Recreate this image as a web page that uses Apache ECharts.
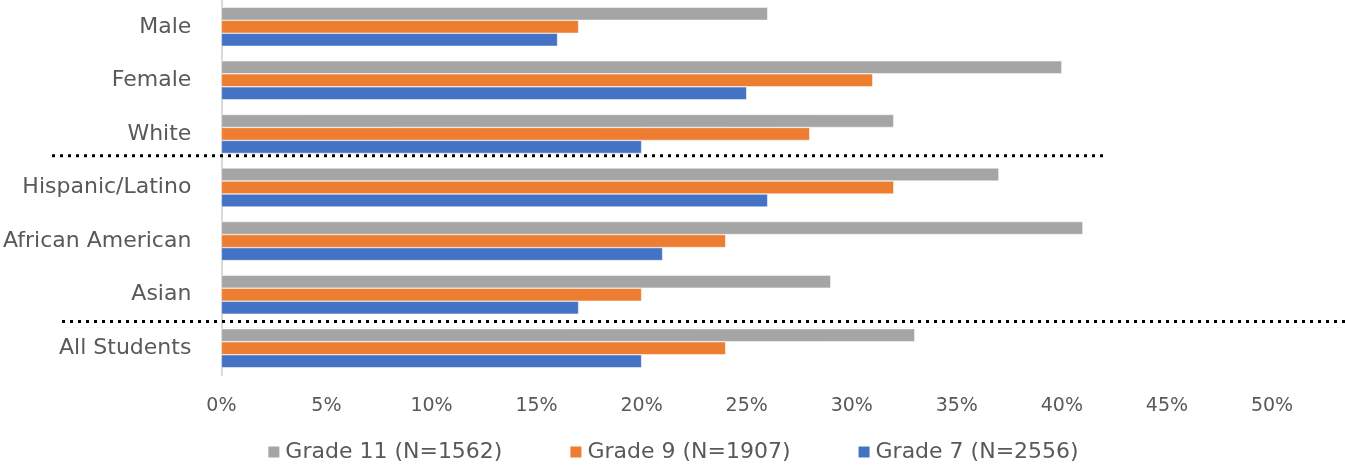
<!DOCTYPE html>
<html>
<head>
<meta charset="utf-8">
<script src="https://cdn.jsdelivr.net/npm/echarts@6/dist/echarts.min.js"></script>
<style>html,body{margin:0;padding:0;background:#fff}#c{width:1345px;height:465px}</style>
</head>
<body>
<div id="c"></div>
<script>
const categories = ['Male', 'Female', 'White', 'Hispanic/Latino', 'African American', 'Asian', 'All Students'];
const seriesNames = ['Grade 11 (N=1562)', 'Grade 9 (N=1907)', 'Grade 7 (N=2556)'];
const grade11 = [26, 40, 32, 37, 41, 29, 33];
const grade9 = [17, 31, 28, 32, 24, 20, 24];
const grade7 = [16, 25, 20, 26, 21, 17, 20];
const xTicks = [0, 5, 10, 15, 20, 25, 30, 35, 40, 45, 50];

const colors = ['#A5A5A5', '#ED7D31', '#4472C4'];
const font = 'DejaVu Sans';
const chart = echarts.init(document.getElementById('c'), null, {renderer: 'canvas'});
const dataSets = [grade11, grade9, grade7];
const option = {
  animation: false,
  color: colors,
  grid: {left: 221, right: 73, top: 0, bottom: 90, containLabel: false},
  xAxis: {
    type: 'value', min: xTicks[0], max: xTicks[xTicks.length - 1], interval: 5,
    axisLine: {show: false}, axisTick: {show: false}, splitLine: {show: false},
    axisLabel: {formatter: v => v + '%', color: '#595959', fontSize: 19, fontFamily: font, margin: 22}
  },
  yAxis: {
    type: 'category', data: categories, inverse: true,
    axisLine: {show: true, lineStyle: {color: '#D9D9D9', width: 2}},
    axisTick: {show: false},
    axisLabel: {color: '#595959', fontSize: 22, fontFamily: font, margin: 30}
  },
  legend: {
    data: seriesNames, bottom: -3, left: 'center', itemGap: 66, itemWidth: 13, itemHeight: 13,
    icon: 'rect', textStyle: {color: '#595959', fontSize: 22, fontFamily: font}
  },
  series: seriesNames.map((n, i) => ({
    name: n, type: 'bar', data: dataSets[i], barWidth: 13, barGap: '0%',
    itemStyle: {borderColor: '#fff', borderWidth: 0.5}
  }))
};
chart.setOption(option);
const y1 = (chart.convertToPixel({yAxisIndex: 0}, 'White') + chart.convertToPixel({yAxisIndex: 0}, 'Hispanic/Latino')) / 2 - 5;
const y2 = (chart.convertToPixel({yAxisIndex: 0}, 'Asian') + chart.convertToPixel({yAxisIndex: 0}, 'All Students')) / 2;
const dotted = {stroke: '#000', lineWidth: 3, lineDash: [3, 5]};
chart.setOption({graphic: [
  {type: 'line', shape: {x1: 52, y1: y1, x2: 1107, y2: y1}, style: dotted, z: 100},
  {type: 'line', shape: {x1: 62, y1: y2, x2: 1345, y2: y2}, style: dotted, z: 100}
]});
</script>
</body>
</html>
